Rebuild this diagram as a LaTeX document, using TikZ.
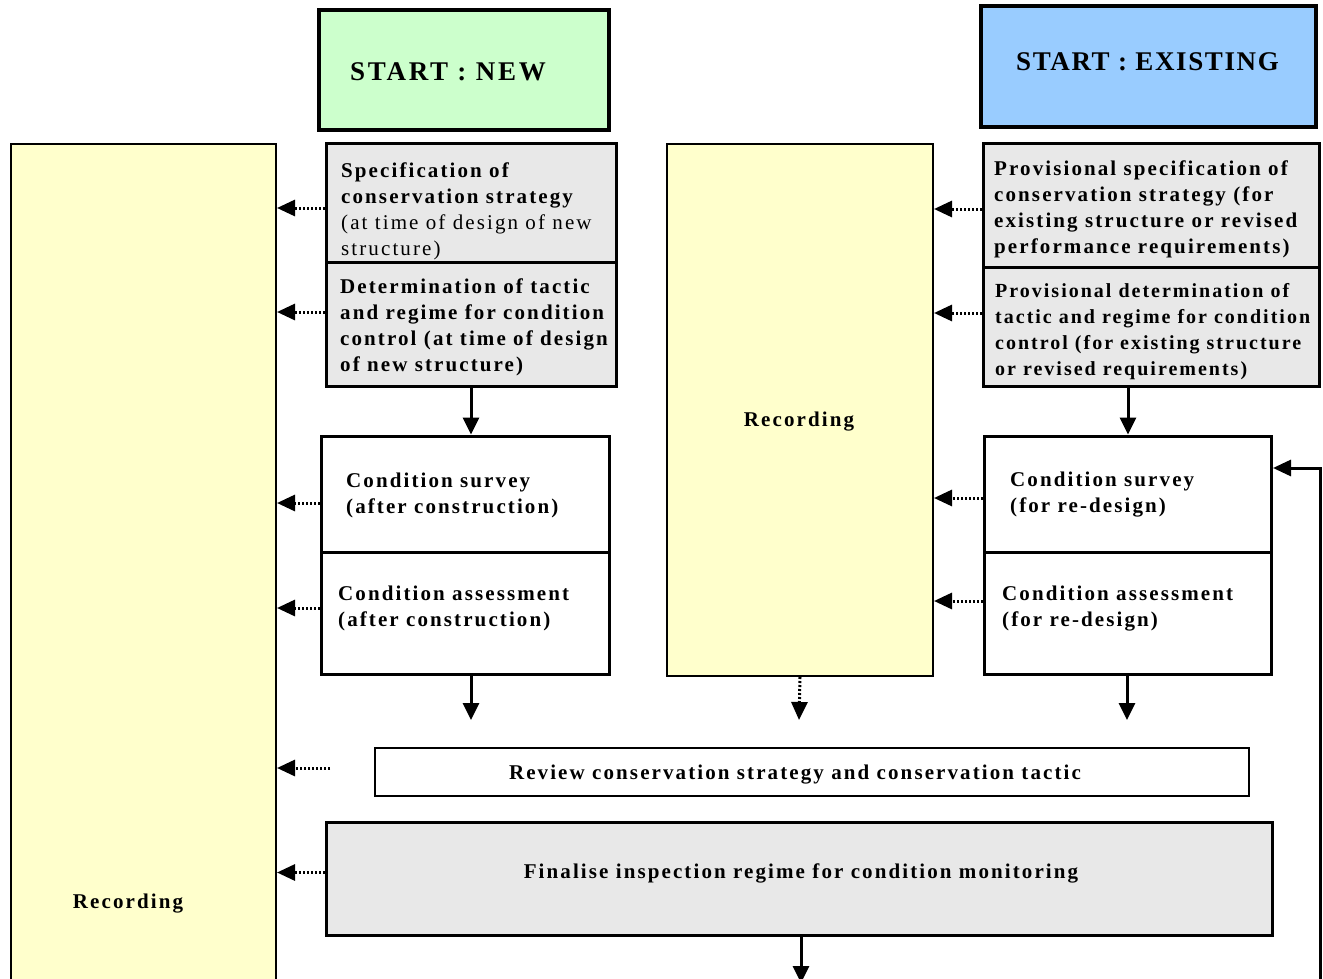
\documentclass[tikz,border=0pt]{standalone}
\usepackage{fontspec}
\setmainfont{Liberation Serif}[LetterSpace=10]
\usetikzlibrary{arrows.meta}
\definecolor{startgreen}{HTML}{CCFFCC}
\definecolor{startblue}{HTML}{99CCFF}
\definecolor{recyellow}{HTML}{FFFFCC}
\definecolor{boxgray}{HTML}{E8E8E8}
\begin{document}
\begin{tikzpicture}[x=1pt,y=-1pt]
\tikzset{
  flowbox/.style={draw=black, line width=3pt, inner sep=0pt, fill=white},
  graybox/.style={flowbox, fill=boxgray},
  startbox/.style={draw=black, line width=3.5pt, inner sep=0pt},
  recbox/.style={draw=black, line width=2pt, fill=recyellow, inner sep=0pt},
  boxtext/.style={inner sep=0pt, align=left, anchor=west, font=\fontsize{21}{26}\selectfont\bfseries},
  titletext/.style={inner sep=0pt, font=\fontsize{27}{32}\selectfont\bfseries},
  flow/.style={line width=3pt, -{Triangle[length=17pt,width=16pt]}},
  feed/.style={line width=3pt, dash pattern=on 2pt off 2pt, -{Triangle[length=18pt,width=16pt]}},
}
\useasboundingbox (0,0) rectangle (1323,979);
\fill[white] (0,0) rectangle (1323,979);
\clip (0,0) rectangle (1323,979);

% recording columns
\node[recbox, minimum width=265pt, minimum height=846pt] (recL) at (143.5,567) {};
\node[recbox, minimum width=266pt, minimum height=532pt] (recM) at (800,410) {};
\node[boxtext, anchor=center] (recLT) at (128,904) {Recording};
\node[boxtext, anchor=center] (recMT) at (799,422) {Recording};

% start boxes
\node[startbox, fill=startgreen, minimum width=290pt, minimum height=120pt] (startnew) at (464,70) {};
\node[titletext] (startnewT) at (448,72) {START : NEW};
\node[startbox, fill=startblue, minimum width=335pt, minimum height=121pt] (startex) at (1148.5,66.5) {};
\node[titletext] (startexT) at (1147.5,62) {\addfontfeature{LetterSpace=6}START : EXISTING};

% new structure column
\node[graybox, minimum width=290pt, minimum height=118pt] (spec) at (471,203) {};
\node[graybox, minimum width=290pt, minimum height=124pt] (det) at (471,324) {};
\node[flowbox, minimum width=288pt, minimum height=116pt] (survA) at (465,494) {};
\node[flowbox, minimum width=288pt, minimum height=122pt] (assA) at (465,613) {};
\node[boxtext] (specT) at (341,211.5) {Specification of\\conservation strategy\\\mdseries(at time of design of new\\\mdseries structure)};
\node[boxtext] (detT) at (340,327) {Determination of tactic\\and regime for condition\\control (at time of design\\of new structure)};
\node[boxtext] (survAT) at (346,495) {Condition survey\\(after construction)};
\node[boxtext] (assAT) at (338,608.5) {Condition assessment\\(after construction)};

% existing structure column
\node[graybox, minimum width=336pt, minimum height=123pt] (pspec) at (1151,205.5) {};
\node[graybox, minimum width=336pt, minimum height=119pt] (pdet) at (1151,326.5) {};
\node[flowbox, minimum width=287pt, minimum height=116pt] (survB) at (1128,494) {};
\node[flowbox, minimum width=287pt, minimum height=122pt] (assB) at (1128,613) {};
\node[boxtext] (pspecT) at (994,209.5) {Provisional specification of\\conservation strategy (for\\existing structure or revised\\performance requirements)};
\node[boxtext, font=\fontsize{20}{26}\selectfont\bfseries] (pdetT) at (995,331.5) {Provisional determination of\\tactic and regime for condition\\control (for existing structure\\or revised requirements)};
\node[boxtext] (survBT) at (1010,495) {Condition survey\\(for re-design)};
\node[boxtext] (assBT) at (1002,608.5) {Condition assessment\\(for re-design)};

% common steps
\node[draw=black, line width=2pt, fill=white, inner sep=0pt, minimum width=874pt, minimum height=48pt] (review) at (812,772) {};
\node[boxtext, anchor=center] (reviewT) at (795,775) {Review conservation strategy and conservation tactic};
\node[graybox, minimum width=946pt, minimum height=113pt] (final) at (799,878.5) {};
\node[boxtext, anchor=center] (finalT) at (801,873) {Finalise inspection regime for condition monitoring};

% free ends of connectors
\coordinate (endA) at (471,720);
\coordinate (endM) at (799,720);
\coordinate (endB) at (1127,720);
\coordinate (endF) at (801,983);
\coordinate (reviewDot) at (330,768);
\coordinate (loopStart) at (1320,990);
\coordinate (loopTurn) at (1320,468);

% main flow
\draw[flow] (det.south) -- (det.south |- survA.north);
\draw[flow] (endA |- assA.south) -- (endA);
\draw[flow] (survB.north |- pdet.south) -- (survB.north);
\draw[flow] (endB |- assB.south) -- (endB);
\draw[feed] (recM.south) -- (endM);
\draw[flow] (endF |- final.south) -- (endF);
\draw[line width=3pt, -{Triangle[length=18pt,width=16pt]}] (loopStart) -- (loopTurn) -- (loopTurn -| survB.east);

% recording links
\draw[feed] ([yshift=-5pt]spec.west) -- ([yshift=-5pt]spec.west -| recL.east);
\draw[feed] ([yshift=12pt]det.west) -- ([yshift=12pt]det.west -| recL.east);
\draw[feed] ([yshift=-9pt]survA.west) -- ([yshift=-9pt]survA.west -| recL.east);
\draw[feed] ([yshift=5pt]assA.west) -- ([yshift=5pt]assA.west -| recL.east);
\draw[feed] (reviewDot) -- (reviewDot -| recL.east);
\draw[feed] ([yshift=6pt]final.west) -- ([yshift=6pt]final.west -| recL.east);
\draw[feed] ([yshift=-3.5pt]pspec.west) -- ([yshift=-3.5pt]pspec.west -| recM.east);
\draw[feed] ([yshift=13.5pt]pdet.west) -- ([yshift=13.5pt]pdet.west -| recM.east);
\draw[feed] ([yshift=-4pt]survB.west) -- ([yshift=-4pt]survB.west -| recM.east);
\draw[feed] ([yshift=12pt]assB.west) -- ([yshift=12pt]assB.west -| recM.east);
\end{tikzpicture}
\end{document}
